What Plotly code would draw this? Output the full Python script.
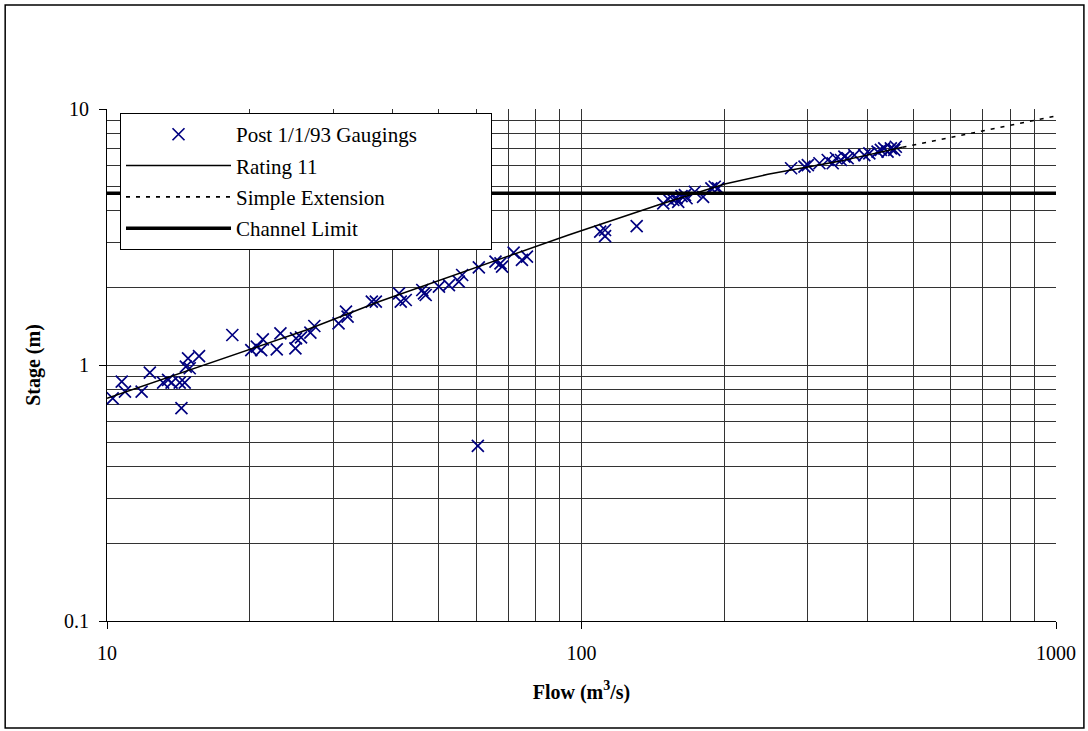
import plotly.graph_objects as go

# Gaugings since 1/1/93: flow (m3/s) and stage (m)
gauge_flow = [
    10.28, 10.74, 10.91, 11.83, 12.31, 13.13, 13.45, 13.68, 14.23, 14.58,
    14.35, 14.66, 14.82, 14.94, 15.63, 18.37, 20.14, 20.69, 21.13, 21.30,
    22.79, 23.2, 24.95, 25.03, 25.64, 26.83, 27.35, 30.76, 32.14, 31.89,
    36.15, 36.86, 41.26, 41.6, 42.62, 46.18, 46.56, 46.95, 50.07, 52.55,
    55.14, 56.04, 60.76, 65.88, 67.49, 68.02, 71.94, 74.9, 76.74, 60.47,
    109.5, 112.1, 112.1, 130.7, 148.7, 152.3, 156.1, 158.6, 159.9, 162.5,
    165.2, 166.5, 173.3, 180.4, 187.8, 190.9, 194.0, 276.5, 295.1, 299.9,
    317.3, 330.3, 338.4, 343.9, 352.3, 358.1, 363.9, 375.8, 394.5, 404.2,
    420.7, 427.5, 434.5, 441.6, 448.7, 456.1, 459.6,
]
gauge_stage = [
    0.741, 0.861, 0.787, 0.787, 0.933, 0.853, 0.874, 0.853, 0.853, 0.853,
    0.678, 0.985, 1.062, 0.971, 1.084, 1.31, 1.144, 1.179, 1.144, 1.26,
    1.151, 1.33, 1.162, 1.271, 1.283, 1.337, 1.42, 1.455, 1.544, 1.615,
    1.767, 1.767, 1.906, 1.767, 1.794, 1.963, 1.906, 1.877, 2.022, 2.053,
    2.115, 2.247, 2.407, 2.532, 2.496, 2.421, 2.746, 2.572, 2.649, 0.483,
    3.317, 3.368, 3.19, 3.49, 4.28, 4.44, 4.41, 4.48, 4.34, 4.57,
    4.61, 4.48, 4.75, 4.54, 4.9, 4.97, 4.9, 5.87, 5.95, 6.04,
    6.14, 6.32, 6.14, 6.42, 6.32, 6.51, 6.42, 6.61, 6.61, 6.71,
    6.81, 6.92, 7.02, 6.81, 7.02, 6.92, 7.12,
]

# Rating 11 curve
rating_flow = [10, 26.3, 37.5, 93.9, 145, 200.4, 247.1, 346.7, 474.8]
rating_stage = [0.741, 1.37, 1.77, 3.22, 4.22, 5.09, 5.56, 6.23, 7.09]

# Simple extension of the rating beyond the highest gauging
ext_flow = [474.8, 1000]
ext_stage = [7.09, 9.39]

# Channel capacity stage
channel_limit = 4.69
limit_flow = [10, 1000]
limit_stage = [channel_limit, channel_limit]

x_major = [10, 100, 1000]
y_major = [0.1, 1, 10]
x_minor = [m * d for d in (10, 100) for m in range(1, 11)]
y_minor = [round(m * d, 2) for d in (0.1, 1) for m in range(1, 11)]

FONT = "Liberation Serif, Times New Roman, serif"
GRID = "#333333"
NB = "\u00a0"

fig = go.Figure()
fig.add_trace(go.Scatter(
    x=gauge_flow, y=gauge_stage, mode="markers",
    name="Post 1/1/93 Gaugings" + NB * 13, legendgroup="g1",
    marker=dict(symbol="x-thin", size=12, color="#000080",
                line=dict(width=1.7, color="#000080")),
))
fig.add_trace(go.Scatter(
    x=rating_flow, y=rating_stage, mode="lines", name="Rating 11",
    legendgroup="g2", line=dict(color="black", width=1.5),
))
fig.add_trace(go.Scatter(
    x=ext_flow, y=ext_stage, mode="lines", name="Simple Extension",
    legendgroup="g3", line=dict(color="black", width=1.6, dash="4px,6px"),
))
fig.add_trace(go.Scatter(
    x=limit_flow, y=limit_stage, mode="lines", name="Channel Limit",
    legendgroup="g4", line=dict(color="black", width=3.5),
))

# Frame around the whole chart
fig.add_shape(type="rect", xref="paper", yref="paper",
              x0=-0.1073, x1=1.0294, y0=-0.209, y1=1.2031,
              line=dict(color="black", width=1.5), layer="above")

fig.update_layout(
    width=1088, height=731,
    margin=dict(l=107, r=30, t=109, b=110),
    paper_bgcolor="white", plot_bgcolor="white",
    font=dict(family=FONT, size=20, color="black"),
    showlegend=True,
    legend=dict(
        x=0.0137, y=0.992, xanchor="left", yanchor="top",
        bgcolor="white", bordercolor="black", borderwidth=1,
        font=dict(family=FONT, size=21, color="black"),
        itemwidth=105, tracegroupgap=1,
    ),
    xaxis=dict(
        type="log", range=[1, 3],
        tickvals=x_major, ticktext=[str(v) for v in x_major],
        ticks="outside", ticklen=7, tickcolor="black", ticklabelstandoff=7,
        showline=True, linecolor="black", linewidth=1, mirror=False,
        showgrid=True, gridcolor=GRID, gridwidth=1,
        minor=dict(tickvals=x_minor, showgrid=True, gridcolor=GRID,
                   gridwidth=1, ticks=""),
        zeroline=False,
        title=dict(text="<b>Flow (m<sup>3</sup>/s)</b>", standoff=21,
                   font=dict(family=FONT, size=20)),
    ),
    yaxis=dict(
        type="log", range=[-1, 1],
        tickvals=y_major, ticktext=["0.1", "1", "10"],
        ticks="outside", ticklen=7, tickcolor="black", ticklabelstandoff=6,
        showline=True, linecolor="black", linewidth=1, mirror=False,
        showgrid=True, gridcolor=GRID, gridwidth=1,
        minor=dict(tickvals=y_minor, showgrid=True, gridcolor=GRID,
                   gridwidth=1, ticks=""),
        zeroline=False,
        title=dict(text="<b>Stage (m)</b>", standoff=18,
                   font=dict(family=FONT, size=20)),
    ),
)

fig.write_html("out.html")
